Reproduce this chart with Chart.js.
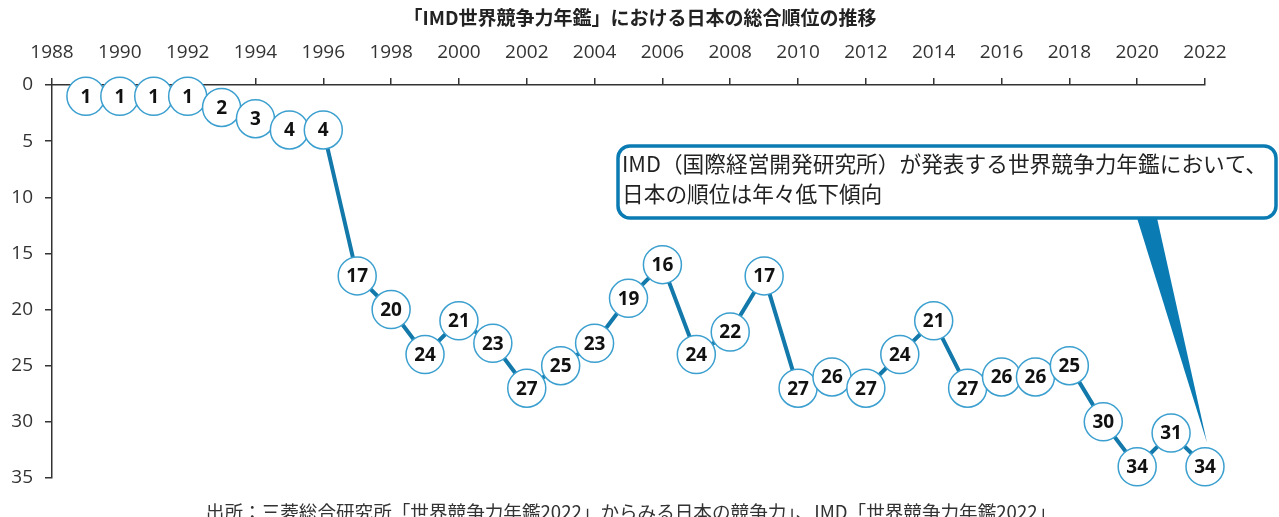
<!DOCTYPE html>
<html>
<head>
<meta charset="utf-8">
<script src="https://cdn.jsdelivr.net/npm/chart.js@4/dist/chart.umd.min.js"></script>
<style>
  html, body { margin: 0; padding: 0; background: #fff; }
  #wrap { width: 1279px; height: 517px; }
</style>
</head>
<body>
<div id="wrap"><canvas id="rankChart" width="1279" height="517"></canvas></div>
<script>
const years = [1989, 1990, 1991, 1992, 1993, 1994, 1995, 1996, 1997, 1998, 1999, 2000,
  2001, 2002, 2003, 2004, 2005, 2006, 2007, 2008, 2009, 2010, 2011, 2012,
  2013, 2014, 2015, 2016, 2017, 2018, 2019, 2020, 2021, 2022];
const ranks = [1, 1, 1, 1, 2, 3, 4, 4, 17, 20, 24, 21,
  23, 27, 25, 23, 19, 16, 24, 22, 17, 27, 26, 27,
  24, 21, 27, 26, 26, 25, 30, 34, 31, 34];
const yearRange = [1988, 2022];
const rankRange = [0, 35];

const chartTitle = '「IMD世界競争力年鑑」における日本の総合順位の推移';
const noteLines = [
  'IMD（国際経営開発研究所）が発表する世界競争力年鑑において、',
  '日本の順位は年々低下傾向'
];
const sourceText = '出所：三菱総合研究所「世界競争力年鑑2022」からみる日本の競争力」、IMD「世界競争力年鑑2022」';

const JP = '"Noto Sans CJK JP", "Noto Sans", sans-serif';
const NUM = '"Open Sans", "Liberation Sans", sans-serif';
const LINE_BLUE = '#1279aa';
const RING_BLUE = '#3b9fcf';
const AXIS = '#333';

// number inside each circle
const pointLabels = {
  id: 'pointLabels',
  afterDatasetsDraw(chart) {
    const ctx = chart.ctx;
    const meta = chart.getDatasetMeta(0);
    ctx.save();
    ctx.font = 'bold 19px ' + NUM;
    ctx.fillStyle = '#111';
    ctx.textAlign = 'center';
    ctx.textBaseline = 'middle';
    meta.data.forEach((pt, i) => {
      ctx.fillText(String(ranks[i]), pt.x, pt.y + 1);
    });
    ctx.restore();
  }
};

// title, source line and the callout box
const decorations = {
  id: 'decorations',
  afterDraw(chart) {
    const ctx = chart.ctx;
    ctx.save();

    ctx.fillStyle = '#222';
    ctx.textAlign = 'center';
    ctx.textBaseline = 'middle';
    ctx.font = 'bold 19px ' + JP;
    ctx.fillText(chartTitle, 640, 18);

    ctx.fillStyle = '#333';
    ctx.font = '18.6px ' + JP;
    ctx.fillText(sourceText, 631, 512);

    // callout
    const meta = chart.getDatasetMeta(0);
    const last = meta.data[meta.data.length - 1];
    const tipX = last.x + 2;
    const tipY = last.y - 24;
    const bx = 618, by = 146, bw = 658, bh = 72, r = 12;

    ctx.beginPath();
    ctx.roundRect(bx, by, bw, bh, r);
    ctx.fillStyle = '#fff';
    ctx.fill();
    ctx.lineWidth = 3.5;
    ctx.strokeStyle = '#0b7bb3';
    ctx.stroke();

    ctx.beginPath();
    ctx.moveTo(1137, by + bh);
    ctx.lineTo(1157, by + bh);
    ctx.lineTo(tipX, tipY);
    ctx.closePath();
    ctx.fillStyle = '#0b7bb3';
    ctx.fill();

    ctx.fillStyle = '#222';
    ctx.textAlign = 'left';
    ctx.font = '21.7px ' + JP;
    ctx.fillText(noteLines[0], 622, 164);
    ctx.fillText(noteLines[1], 622, 194);

    ctx.restore();
  }
};

const ctx = document.getElementById('rankChart').getContext('2d');
new Chart(ctx, {
  type: 'line',
  data: {
    datasets: [{
      data: years.map((y, i) => ({ x: y, y: ranks[i] })),
      borderColor: LINE_BLUE,
      borderWidth: 4,
      pointRadius: 19,
      pointHoverRadius: 19,
      pointBackgroundColor: '#fff',
      pointBorderColor: RING_BLUE,
      pointBorderWidth: 1.5,
      tension: 0,
      clip: false
    }]
  },
  options: {
    responsive: false,
    devicePixelRatio: 1,
    animation: false,
    layout: { padding: { top: 0, left: 0, right: 74, bottom: 39 } },
    plugins: {
      legend: { display: false },
      tooltip: { enabled: false }
    },
    scales: {
      x: {
        type: 'linear',
        position: 'top',
        min: yearRange[0],
        max: yearRange[1],
        afterFit: s => { s.height = 85; },
        ticks: {
          stepSize: 2,
          callback: v => String(v),
          color: AXIS,
          font: { family: NUM, size: 19 },
          padding: 14,
          maxRotation: 0,
          autoSkip: false
        },
        grid: { drawOnChartArea: false, tickLength: 7, color: AXIS, lineWidth: 1.5 },
        border: { color: AXIS, width: 1.5 }
      },
      y: {
        reverse: true,
        min: rankRange[0],
        max: rankRange[1],
        afterFit: s => { s.width = 52; },
        ticks: {
          stepSize: 5,
          color: AXIS,
          font: { family: NUM, size: 19 },
          padding: 12
        },
        grid: { drawOnChartArea: false, tickLength: 7, color: AXIS, lineWidth: 1.5 },
        border: { color: AXIS, width: 1.5 }
      }
    }
  },
  plugins: [pointLabels, decorations]
});
</script>
</body>
</html>
